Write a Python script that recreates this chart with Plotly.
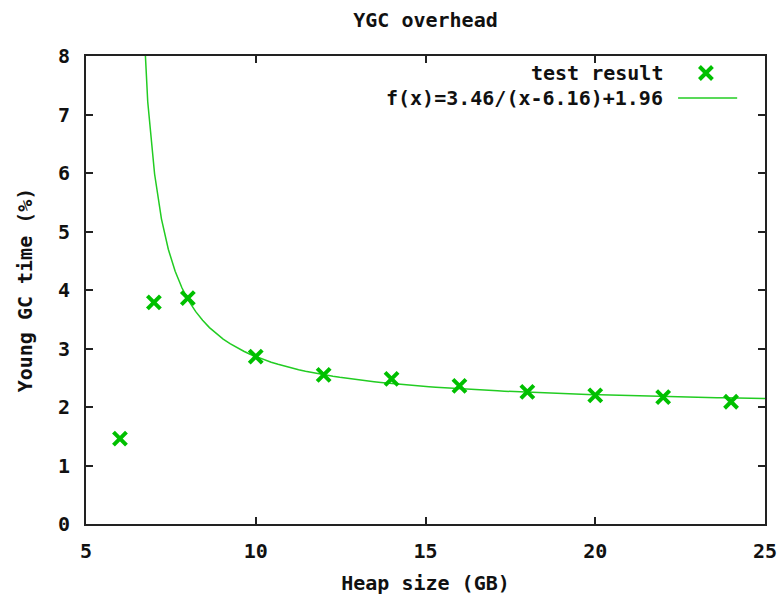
import numpy as np
import plotly.graph_objects as go

# Measured young-GC overhead per heap size
heap_gb = [6, 7, 8, 10, 12, 14, 16, 18, 20, 22, 24]
ygc_pct = [1.46, 3.79, 3.86, 2.86, 2.55, 2.48, 2.36, 2.26, 2.20, 2.17, 2.09]

# Fitted model f(x) = a / (x - b) + c
fit_a, fit_b, fit_c = 3.46, 6.16, 1.96
fit_label = "f(x)=3.46/(x-6.16)+1.96"

x_ticks = [5, 10, 15, 20, 25]
y_ticks = [0, 1, 2, 3, 4, 5, 6, 7, 8]

GREEN_PT = "#00c000"
GREEN_LN = "#22cc22"
FONT = dict(family="DejaVu Sans Mono", size=20, color="#111111", weight="bold")

# sampled like a plotting program would (100 samples over the x range)
xs = np.linspace(5, 25, 100)
xs = xs[xs > fit_b]
ys = fit_a / (xs - fit_b) + fit_c

MARK = dict(symbol="x-thin-open", size=13, color=GREEN_PT,
            line=dict(color=GREEN_PT, width=4))

fig = go.Figure()
fig.add_trace(go.Scatter(
    x=xs, y=ys, mode="lines",
    line=dict(color=GREEN_LN, width=1.5), showlegend=False, cliponaxis=True))
fig.add_trace(go.Scatter(
    x=heap_gb, y=ygc_pct, mode="markers", marker=MARK, showlegend=False))

# key samples, drawn on a unit overlay axis
fig.add_trace(go.Scatter(
    x=[0.913], y=[0.9637], mode="markers", xaxis="x2", yaxis="y2",
    marker=MARK, showlegend=False, hoverinfo="skip"))
fig.add_trace(go.Scatter(
    x=[0.872, 0.959], y=[0.910, 0.910], mode="lines", xaxis="x2", yaxis="y2",
    line=dict(color=GREEN_LN, width=1.5), showlegend=False, hoverinfo="skip"))

for txt, yy in (("test result", 0.9637), (fit_label, 0.910)):
    fig.add_annotation(text=txt, xref="paper", yref="paper", x=0.852, y=yy,
                       xanchor="right", yanchor="middle", showarrow=False, font=FONT)

axis_common = dict(
    showline=True, linecolor="#222222", linewidth=2, mirror="allticks",
    ticks="inside", ticklen=7, tickwidth=1.5, tickcolor="#222222",
    showgrid=False, zeroline=False, tickfont=FONT, automargin=False)

fig.update_layout(
    width=781, height=595,
    margin=dict(l=86, r=16, t=56, b=71, autoexpand=False),
    paper_bgcolor="white", plot_bgcolor="white",
    font=FONT,
    title=dict(text="YGC overhead", x=(86 + 765) / 2 / 781, xanchor="center",
               y=1 - 20 / 595, yanchor="middle", yref="container", font=FONT,
               automargin=False),
    xaxis=dict(range=[5, 25], tickvals=x_ticks, ticklabelstandoff=8,
               title=dict(text="Heap size (GB)", font=FONT, standoff=16),
               **axis_common),
    yaxis=dict(range=[0, 8], tickvals=y_ticks, ticklabelstandoff=10,
               title=dict(text="Young GC time (%)", font=FONT, standoff=20),
               **axis_common),
    xaxis2=dict(range=[0, 1], overlaying="x", visible=False, fixedrange=True),
    yaxis2=dict(range=[0, 1], overlaying="y", visible=False, fixedrange=True),
)

fig.write_html("out.html")
